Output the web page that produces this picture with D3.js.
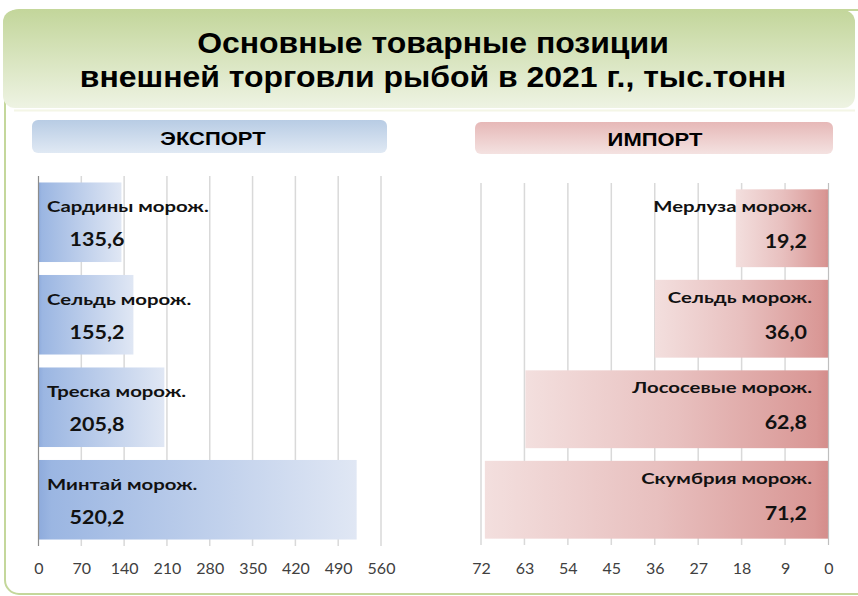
<!DOCTYPE html>
<html><head><meta charset="utf-8">
<script src="https://cdn.jsdelivr.net/npm/d3@7"></script>
<style>
html,body{margin:0;padding:0;background:#fff;}
svg{display:block;}
</style></head>
<body>
<script>
const titleLines = ["Основные товарные позиции", "внешней торговли рыбой в 2021 г., тыс.тонн"];
const exportTitle = "ЭКСПОРТ";
const importTitle = "ИМПОРТ";
const exportCategories = ["Сардины морож.", "Сельдь морож.", "Треска морож.", "Минтай морож."];
const exportValues = [135.6, 155.2, 205.8, 520.2];
const exportTicks = [0, 70, 140, 210, 280, 350, 420, 490, 560];
const importCategories = ["Мерлуза морож.", "Сельдь морож.", "Лососевые морож.", "Скумбрия морож."];
const importValues = [19.2, 36.0, 62.8, 71.2];
const importTicks = [72, 63, 54, 45, 36, 27, 18, 9, 0];

const W = 858, H = 596;
const svg = d3.select("body").append("svg").attr("width", W).attr("height", H);
const defs = svg.append("defs");

// horizontally stretch text (reference text is rendered wider than natural)
function stretch(sel, k) {
  sel.each(function() {
    const w = this.getComputedTextLength();
    d3.select(this).attr("textLength", w * k).attr("lengthAdjust", "spacingAndGlyphs");
  });
}

function vGrad(id, top, bottom) {
  const g = defs.append("linearGradient").attr("id", id).attr("x1", 0).attr("y1", 0).attr("x2", 0).attr("y2", 1);
  g.append("stop").attr("offset", 0).attr("stop-color", top);
  g.append("stop").attr("offset", 1).attr("stop-color", bottom);
}
function hGrad(id, stops) {
  const g = defs.append("linearGradient").attr("id", id).attr("x1", 0).attr("y1", 0).attr("x2", 1).attr("y2", 0);
  stops.forEach(s => g.append("stop").attr("offset", s[0]).attr("stop-color", s[1]));
}
vGrad("gTitle", "#c3d69b", "#eef3e3");
vGrad("gExp", "#b8cce4", "#e0e9f4");
vGrad("gImp", "#e6b8b7", "#f4e2e1");
hGrad("gBarExp", [[0, "#8eabdc"], [0.04, "#9bb6e2"], [1, "#e0e7f4"]]);
hGrad("gBarImp", [[0, "#f3dfde"], [0.5, "#e8c0bf"], [0.96, "#d99795"], [1, "#d48d8b"]]);

// outer frame
svg.append("rect").attr("x", 5).attr("y", 10).attr("width", 880).attr("height", 584)
  .attr("rx", 14).attr("fill", "#fff").attr("stroke", "#c4d79b").attr("stroke-width", 2);
// title box
svg.append("rect").attr("x", 3).attr("y", 10).attr("width", 852).attr("height", 98)
  .attr("rx", 12).attr("fill", "url(#gTitle)");
svg.append("line").attr("x1", 14).attr("x2", 855).attr("y1", 110.5).attr("y2", 110.5)
  .attr("stroke", "#f4f6e6").attr("stroke-width", 2);

const title = svg.append("g").attr("text-anchor", "middle")
  .style("font-family", "Liberation Sans, Arial, sans-serif").style("font-weight", "bold")
  .style("font-size", "30px").attr("fill", "#000");
title.selectAll("text").data(titleLines).join("text")
  .attr("x", 433).attr("y", (d, i) => 52.5 + i * 34.5).text(d => d)
  .call(stretch, 1.065);

const hdrFont = "Liberation Sans, Arial, sans-serif";
// headers
svg.append("rect").attr("x", 32).attr("y", 120).attr("width", 355).attr("height", 33).attr("rx", 6).attr("fill", "url(#gExp)");
svg.append("text").attr("x", 213).attr("y", 144.5).attr("text-anchor", "middle")
  .style("font-family", hdrFont).style("font-weight", "bold").style("font-size", "18px").text(exportTitle)
  .call(stretch, 1.22);
svg.append("rect").attr("x", 475).attr("y", 122).attr("width", 358).attr("height", 32).attr("rx", 6).attr("fill", "url(#gImp)");
svg.append("text").attr("x", 655).attr("y", 145.5).attr("text-anchor", "middle")
  .style("font-family", hdrFont).style("font-weight", "bold").style("font-size", "18px").text(importTitle)
  .call(stretch, 1.22);

const labelFont = "Lato, 'Open Sans', sans-serif";

// ---------- Export chart ----------
const xE = d3.scaleLinear().domain([0, 560]).range([38.5, 381]);
const yE = d3.scaleBand().domain(exportCategories).range([176, 546]).paddingInner(0.14).paddingOuter(0.07);
const gE = svg.append("g");
gE.selectAll("line.grid").data(exportTicks.slice(1)).join("line")
  .attr("x1", d => xE(d)).attr("x2", d => xE(d)).attr("y1", 176).attr("y2", 546)
  .attr("stroke", "#d9d9d9").attr("stroke-width", 1.5);
gE.selectAll("rect.bar").data(exportValues).join("rect")
  .attr("x", xE(0)).attr("y", (d, i) => yE(exportCategories[i]))
  .attr("width", d => xE(d) - xE(0)).attr("height", yE.bandwidth())
  .attr("fill", "url(#gBarExp)");
gE.append("line").attr("x1", xE(0)).attr("x2", xE(0)).attr("y1", 176).attr("y2", 546)
  .attr("stroke", "#8c8c8c").attr("stroke-width", 1.2);
const axE = d3.axisBottom(xE).tickValues(exportTicks).tickSize(0).tickPadding(0).tickFormat(d3.format("d"));
gE.append("g").attr("transform", "translate(0,573.5)").call(axE)
  .call(g => g.select(".domain").remove())
  .selectAll("text").attr("dy", 0).attr("y", 0).attr("fill", "#404040")
  .style("font-family", labelFont).style("font-size", "16px");
gE.selectAll("text.name").data(exportCategories).join("text")
  .attr("x", 47).attr("y", d => yE(d) + 30)
  .style("font-family", labelFont).style("font-weight", "bold").style("font-size", "16px").attr("fill", "#111")
  .text(d => d).call(stretch, 1.27);
gE.selectAll("text.val").data(exportValues).join("text")
  .attr("x", 97).attr("y", (d, i) => yE(exportCategories[i]) + 64).attr("text-anchor", "middle")
  .style("font-family", labelFont).style("font-weight", "bold").style("font-size", "19.5px").attr("fill", "#111")
  .text(d => d3.format(".1f")(d).replace(".", ",")).call(stretch, 1.1);

// ---------- Import chart ----------
const xI = d3.scaleLinear().domain([72, 0]).range([481, 828.5]);
const yI = d3.scaleBand().domain(importCategories).range([183, 545]).paddingInner(0.14).paddingOuter(0.07);
const gI = svg.append("g");
gI.selectAll("line.grid").data(importTicks.slice(0, -1)).join("line")
  .attr("x1", d => xI(d)).attr("x2", d => xI(d)).attr("y1", 183).attr("y2", 545)
  .attr("stroke", "#d9d9d9").attr("stroke-width", 1.5);
gI.selectAll("rect.bar").data(importValues).join("rect")
  .attr("x", d => xI(d)).attr("y", (d, i) => yI(importCategories[i]))
  .attr("width", d => xI(0) - xI(d)).attr("height", yI.bandwidth())
  .attr("fill", "url(#gBarImp)");
gI.append("line").attr("x1", xI(0)).attr("x2", xI(0)).attr("y1", 183).attr("y2", 545)
  .attr("stroke", "#bfbfbf").attr("stroke-width", 1.2);
const axI = d3.axisBottom(xI).tickValues(importTicks).tickSize(0).tickPadding(0).tickFormat(d3.format("d"));
gI.append("g").attr("transform", "translate(0,573.5)").call(axI)
  .call(g => g.select(".domain").remove())
  .selectAll("text").attr("dy", 0).attr("y", 0).attr("fill", "#404040")
  .style("font-family", labelFont).style("font-size", "16px");
gI.selectAll("text.name").data(importCategories).join("text")
  .attr("x", 812).attr("y", d => yI(d) + 23).attr("text-anchor", "end")
  .style("font-family", labelFont).style("font-weight", "bold").style("font-size", "16px").attr("fill", "#111")
  .text(d => d).call(stretch, 1.27);
gI.selectAll("text.val").data(importValues).join("text")
  .attr("x", 807).attr("y", (d, i) => yI(importCategories[i]) + 59).attr("text-anchor", "end")
  .style("font-family", labelFont).style("font-weight", "bold").style("font-size", "19.5px").attr("fill", "#111")
  .text(d => d3.format(".1f")(d).replace(".", ",")).call(stretch, 1.1);
</script>
</body></html>
